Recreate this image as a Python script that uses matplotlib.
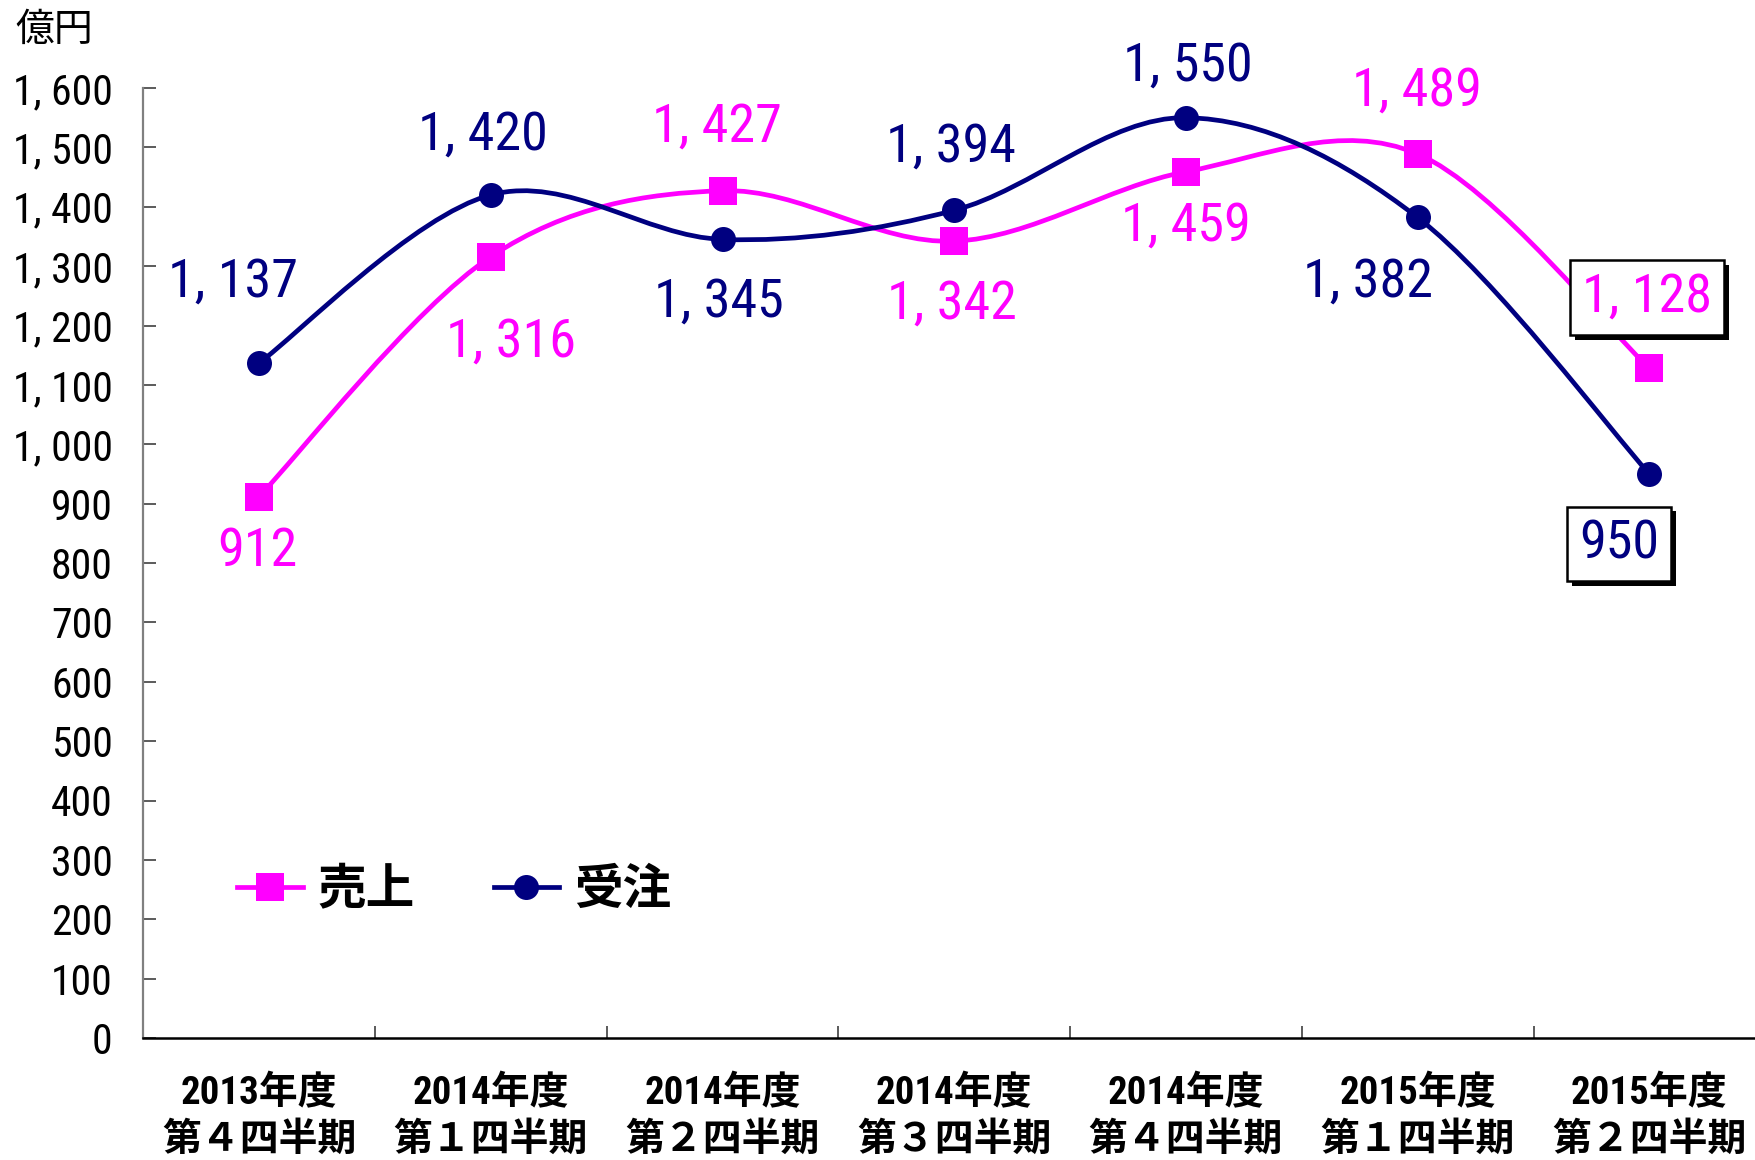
import numpy as np
import matplotlib
matplotlib.use("Agg")
import matplotlib.pyplot as plt
from matplotlib.path import Path
from matplotlib.patches import PathPatch
from matplotlib.lines import Line2D
import matplotlib.patheffects as pe
from matplotlib import font_manager as fm

# ---------------- data ----------------
categories = ["2013年度\n第４四半期", "2014年度\n第１四半期", "2014年度\n第２四半期",
              "2014年度\n第３四半期", "2014年度\n第４四半期", "2015年度\n第１四半期",
              "2015年度\n第２四半期"]
sales = [912, 1316, 1427, 1342, 1459, 1489, 1128]      # 売上
orders = [1137, 1420, 1345, 1394, 1550, 1382, 950]     # 受注
series_names = ["売上", "受注"]
yticks = list(range(0, 1601, 100))
unit_label = "億円"

# label offsets in pixels (dx, dy) relative to each point
sales_off = [(-2, -55), (20, -85), (-6, 64), (-2, -63), (0, -54), (-1, 63), (-2, 71)]
orders_off = [(-26, 81), (-8, 60), (-4, -63), (-3, 63), (2, 52), (-50, -65), (-30, -70)]

# ---------------- fonts ----------------
CJK = "Noto Sans CJK JP"


def pick_narrow():
    prefs = ["liberation sans narrow", "roboto condensed", "dejavu sans", "noto sans",
             "open sans", "roboto", "inter", "lato"]
    found = []
    for f in fm.fontManager.ttflist:
        fn = f.fname.lower()
        st = str(f.stretch).lower()
        cond = ("narrow" in fn or "condensed" in fn or "narrow" in f.name.lower()
                or "condensed" in f.name.lower() or "condensed" in st)
        if cond and "cjk" not in fn and f.style == "normal":
            found.append(f)
    for p in prefs:
        for f in found:
            if f.name.lower().startswith(p):
                return f.name, f.stretch, 1.0
    if found:
        return found[0].name, found[0].stretch, 1.0
    return "Liberation Sans", "normal", 0.9


NUM, STRETCH, SCALE = pick_narrow()
plt.rcParams["font.family"] = [NUM, CJK, "DejaVu Sans"]
plt.rcParams["font.stretch"] = STRETCH

MAGENTA = "#FF00FF"
NAVY = "#000080"

fig = plt.figure(figsize=(17.55, 11.6), dpi=100)
ax = fig.add_axes([143.3 / 1755, 122 / 1160, 1621.9 / 1755, 950 / 1160])

x = np.arange(len(categories))
ax.set_xlim(-0.5, len(categories) - 0.5)
ax.set_ylim(0, 1600)


def smooth_path(xs, ys):
    pts = np.column_stack([xs, ys]).astype(float)
    n = len(pts)
    verts = [pts[0]]
    codes = [Path.MOVETO]
    for i in range(n - 1):
        p0 = pts[i - 1] if i > 0 else pts[i]
        p1 = pts[i]
        p2 = pts[i + 1]
        p3 = pts[i + 2] if i + 2 < n else pts[i + 1]
        c1 = p1 + (p2 - p0) / 6.0
        c2 = p2 - (p3 - p1) / 6.0
        verts += [c1, c2, p2]
        codes += [Path.CURVE4] * 3
    return Path(verts, codes)


LW = 3.4
for vals, col, mk, ms, z in [(sales, MAGENTA, "s", 20, 3), (orders, NAVY, "o", 18, 4)]:
    patch = PathPatch(smooth_path(x, vals), facecolor="none", edgecolor=col,
                      lw=LW, zorder=z, capstyle="round", joinstyle="round")
    ax.add_patch(patch)
    ax.plot(x, vals, linestyle="none", marker=mk, ms=ms, color=col,
            markeredgewidth=0, zorder=z + 0.5, clip_on=False)


def fmt(v):
    s = f"{v:,}"
    return s.replace(",", ", ")


def add_labels(vals, offs, col):
    for i, (v, (dx, dy)) in enumerate(zip(vals, offs)):
        kw = {}
        if i == len(vals) - 1:
            kw["bbox"] = dict(boxstyle="square,pad=0.22", fc="white", ec="black", lw=1.8)
        ann = ax.annotate(fmt(v), (x[i], v), xytext=(dx, dy), textcoords="offset pixels",
                          ha="center", va="center", color=col, fontsize=39 * SCALE,
                          family=[NUM, CJK], stretch=STRETCH, zorder=6,
                          annotation_clip=False, **kw)
        if "bbox" in kw:
            ann.get_bbox_patch().set_path_effects(
                [pe.SimplePatchShadow(offset=(3.5, -3.5), shadow_rgbFace="black", alpha=1.0),
                 pe.Normal()])


add_labels(sales, sales_off, MAGENTA)
add_labels(orders, orders_off, NAVY)

# ---------------- axes styling ----------------
for s in ["top", "right"]:
    ax.spines[s].set_visible(False)
ax.spines["left"].set_color("#808080")
ax.spines["left"].set_linewidth(1.6)
ax.spines["bottom"].set_color("black")
ax.spines["bottom"].set_linewidth(1.8)

ax.set_yticks(yticks)
ax.set_yticklabels([fmt(v) for v in yticks], fontsize=30 * SCALE, family=[NUM, CJK],
                   stretch=STRETCH)
ax.tick_params(axis="y", direction="in", length=9.4, width=1.2, color="#404040", pad=22)

ax.set_xticks(np.arange(0.5, len(categories) - 1, 1.0))
ax.set_xticklabels([])
ax.tick_params(axis="x", which="major", direction="in", length=8.6, width=1.2, color="#404040")
ax.set_xticks(x, minor=True)
ax.set_xticklabels(categories, minor=True, fontsize=28, fontweight="bold",
                   family=[NUM, CJK], stretch=STRETCH, linespacing=1.32)
ax.tick_params(axis="x", which="minor", length=0, pad=27)

fig.text(15 / 1755, 1 - 30 / 1160, unit_label, ha="left", va="center", fontsize=28,
         family=[CJK])

handles = [Line2D([], [], color=MAGENTA, lw=LW, marker="s", ms=20, markeredgewidth=0),
           Line2D([], [], color=NAVY, lw=LW, marker="o", ms=18, markeredgewidth=0)]
ax.legend(handles, series_names, loc="center left", bbox_to_anchor=(0.058, 0.156),
          ncol=2, frameon=False, borderpad=0, borderaxespad=0, handlelength=1.35,
          handletextpad=0.3, columnspacing=1.62,
          prop=dict(family=[CJK], weight="bold", size=35))

fig.savefig("out.png", dpi=100)
